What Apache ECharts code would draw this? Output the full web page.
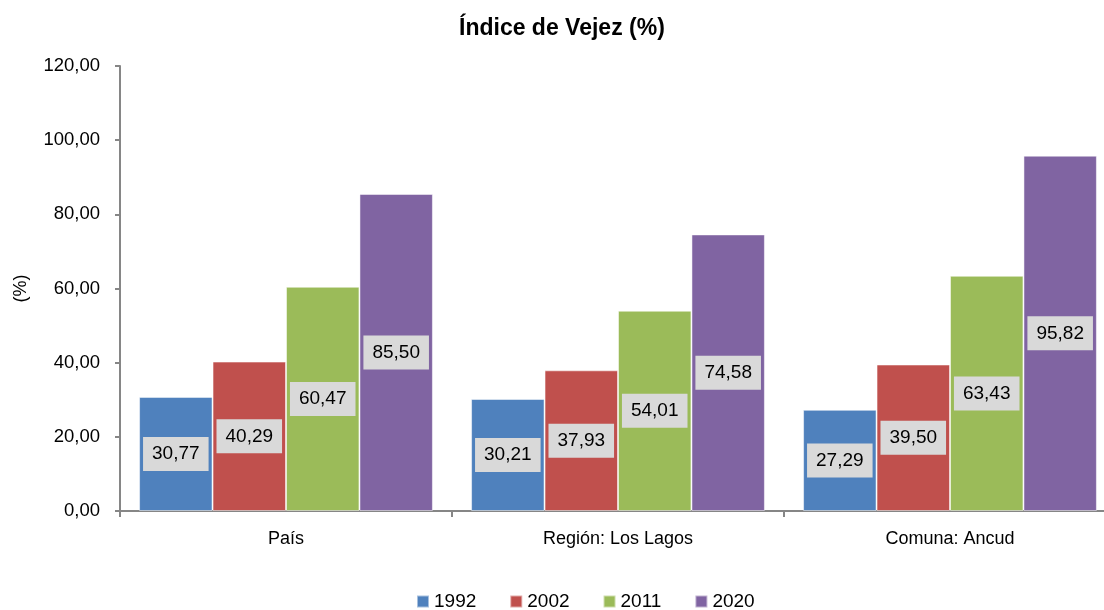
<!DOCTYPE html>
<html>
<head>
<meta charset="utf-8">
<script src="https://cdn.jsdelivr.net/npm/echarts@6/dist/echarts.min.js"></script>
<style>html,body{margin:0;padding:0;background:#fff}#c{width:1104px;height:610px}</style>
</head>
<body>
<div id="c"></div>
<script>
const categories = ['País', 'Región: Los Lagos', 'Comuna: Ancud'];
const years = ['1992', '2002', '2011', '2020'];
const v1992 = [30.77, 30.21, 27.29];
const v2002 = [40.29, 37.93, 39.50];
const v2011 = [60.47, 54.01, 63.43];
const v2020 = [85.50, 74.58, 95.82];
const yTicks = [0, 20, 40, 60, 80, 100, 120];
const colors = ['#4f81bd', '#c0504d', '#9bbb59', '#8064a2'];
const seriesData = [v1992, v2002, v2011, v2020];
const FONT = 'Liberation Sans';
const fmt = v => v.toFixed(2).replace('.', ',');

const chart = echarts.init(document.getElementById('c'), null, {renderer: 'canvas'});
chart.setOption({
  animation: false,
  textStyle: {fontFamily: FONT},
  title: {
    text: 'Índice de Vejez (%)', left: 459, top: 17, padding: 0,
    textStyle: {fontFamily: FONT, fontSize: 23, fontWeight: 'bold', color: '#000'}
  },
  legend: {
    top: 592, left: 416, padding: 0, itemWidth: 12, itemHeight: 12, itemGap: 33,
    icon: 'rect',
    textStyle: {fontFamily: FONT, fontSize: 19, color: '#000'},
    data: years
  },
  grid: {left: 120, width: 996, top: 66, bottom: 99, outerBoundsMode: 'none', containLabel: false},
  xAxis: {
    type: 'category', data: categories,
    axisLine: {lineStyle: {color: '#868686', width: 2}},
    axisTick: {show: true, length: 6, lineStyle: {color: '#868686', width: 2}},
    axisLabel: {fontSize: 18, color: '#000', margin: 19, fontFamily: FONT}
  },
  yAxis: {
    type: 'value', min: yTicks[0], max: yTicks[yTicks.length - 1], interval: 20,
    name: '(%)', nameLocation: 'middle', nameGap: 90, nameRotate: 90,
    nameTextStyle: {fontSize: 18, color: '#000', fontFamily: FONT},
    axisLine: {show: true, lineStyle: {color: '#868686', width: 2}},
    axisTick: {show: true, length: 5, inside: false, lineStyle: {color: '#868686', width: 2}},
    splitLine: {show: false},
    axisLabel: {fontSize: 18.5, color: '#000', margin: 20, fontFamily: FONT, formatter: v => fmt(v)}
  },
  series: years.map((y, i) => ({
    name: y, type: 'bar', data: seriesData[i],
    barGap: '0%', barCategoryGap: '11.5%',
    itemStyle: {color: colors[i], borderColor: 'rgba(255,255,255,0.5)', borderWidth: 1},
    label: {
      show: true, position: 'inside', formatter: p => fmt(p.value),
      fontSize: 19, color: '#000', fontFamily: FONT,
      backgroundColor: '#d9d9d9', padding: [8, 9, 7, 9]
    }
  }))
});
</script>
</body>
</html>
